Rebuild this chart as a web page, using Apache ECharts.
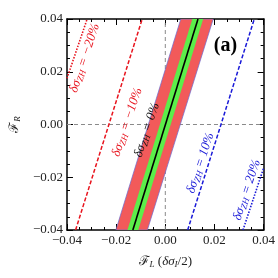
<!DOCTYPE html>
<html><head><meta charset="utf-8">
<script src="https://cdn.jsdelivr.net/npm/echarts@6/dist/echarts.min.js"></script>
<style>html,body{margin:0;padding:0;background:#fff}#c{width:278px;height:278px}</style>
</head><body><div id="c"></div>
<script>
// Axis ticks
const xTicks = [-0.04, -0.02, 0.00, 0.02, 0.04];
const yTicks = [-0.04, -0.02, 0.00, 0.02, 0.04];
// Bands (polygon corners, [F_L, F_R])
const redBand = [[-0.0201, -0.04], [-0.0073, -0.04], [0.0195, 0.04], [0.0063, 0.04]];
const greenBand = [[-0.0154, -0.04], [-0.0110, -0.04], [0.0154, 0.04], [0.0110, 0.04]];
const centerLine = [[-0.0132, -0.04], [0.0133, 0.04]];
// Contour lines
const redDashed = [[-0.0365, -0.04], [-0.0094, 0.04]];
const redDotted = [[-0.0400, 0.0175], [-0.0318, 0.04]];
const blueDashed = [[0.0091, -0.04], [0.0362, 0.04]];
const blueDotted = [[0.0316, -0.04], [0.0400, -0.0165]];
// Labels
const labelPos = [[-0.0328, 0.0252], [-0.0155, 0.0009], [-0.0075, -0.0021], [0.0143, -0.0146], [0.0332, -0.0248]];
const labelVals = ['−20%', '−10%', '0%', '10%', '20%'];
const labelColors = ['#e8141e', '#e8141e', '#111111', '#1a1ad8', '#1a1ad8'];
const panelLabel = '(a)';
const panelPos = [0.0245, 0.0297];

const SERIF = '"Liberation Serif", "DejaVu Serif", serif';
const fmt = v => { const s = Math.abs(v) < 1e-9 ? '0.00' : v.toFixed(2); return s.replace('-', '−'); };
const ROT = Math.atan2(1, 0.334);

function polySeries(pts, fill, stroke, z) {
  return {
    type: 'custom', clip: true, z: z, data: [0], silent: true,
    renderItem: (params, api) => ({
      type: 'polygon',
      shape: { points: pts.map(p => api.coord(p)) },
      style: { fill: fill, stroke: stroke, lineWidth: stroke ? 0.7 : 0 }
    })
  };
}
function lineSeries(pts, color, type, width, z) {
  return {
    type: 'line', data: pts, symbol: 'none', silent: true, z: z, clip: true,
    lineStyle: { color: color, type: type, width: width }
  };
}

const axisCommon = {
  type: 'value', min: -0.04, max: 0.04, interval: 0.02,
  axisLine: { show: true, onZero: false, lineStyle: { color: '#000', width: 1.5 } },
  axisTick: { show: true, inside: true, length: 6, lineStyle: { color: '#000', width: 1 } },
  minorTick: { show: true, splitNumber: 4, length: 3, lineStyle: { color: '#000', width: 1 } },
  splitLine: { show: false }
};

const chart = echarts.init(document.getElementById('c'), null, { renderer: 'canvas' });
chart.setOption({
  animation: false,
  grid: { left: 54, right: 12, top: 19, bottom: 48 },
  xAxis: [
    Object.assign({}, axisCommon, {
      position: 'bottom',
      axisLabel: { color: '#222', fontFamily: SERIF, fontSize: 13, margin: 4, formatter: fmt },
      name: '{f|ℱ}{s|L} ({g|δσ}{s|I}/2)', nameLocation: 'middle', nameGap: 24,
      nameTextStyle: {
        color: '#222', fontFamily: SERIF, fontSize: 13,
        rich: {
          f: { fontFamily: '"DejaVu Serif", serif', fontSize: 13, color: '#222' },
          g: { fontFamily: SERIF, fontStyle: 'italic', fontSize: 13, color: '#222' },
          s: { fontFamily: SERIF, fontStyle: 'italic', fontSize: 9, color: '#222', verticalAlign: 'bottom', padding: [6, 0, 0, 0] }
        }
      }
    }),
    Object.assign({}, axisCommon, { position: 'top', axisLabel: { show: false } })
  ],
  yAxis: [
    Object.assign({}, axisCommon, {
      position: 'left',
      axisLabel: { color: '#222', fontFamily: SERIF, fontSize: 13, margin: 4, formatter: fmt },
      name: '{f|ℱ}{s|R}', nameLocation: 'middle', nameGap: 40, nameRotate: 90,
      nameTextStyle: {
        color: '#222', fontFamily: SERIF, fontSize: 13,
        rich: {
          f: { fontFamily: '"DejaVu Serif", serif', fontSize: 13, color: '#222' },
          s: { fontFamily: SERIF, fontStyle: 'italic', fontSize: 9, color: '#222', verticalAlign: 'bottom', padding: [6, 0, 0, 0] }
        }
      }
    }),
    Object.assign({}, axisCommon, { position: 'right', axisLabel: { show: false } })
  ],
  series: [
    lineSeries([[0, -0.04], [0, 0.04]], '#8a8a8a', [4, 3], 1, 1),
    lineSeries([[-0.04, 0], [0.04, 0]], '#8a8a8a', [4, 3], 1, 1),
    polySeries(redBand, '#f25a5a', '#6a6ad0', 2),
    polySeries(greenBand, '#5cee4a', null, 3),
    lineSeries(centerLine, '#000', 'solid', 1.6, 4),
    lineSeries(redDashed, '#e8141e', [4, 2], 1.5, 4),
    lineSeries(redDotted, '#e8141e', [1.5, 1.5], 1.6, 4),
    lineSeries(blueDashed, '#1a1ad8', [4, 2], 1.5, 4),
    lineSeries(blueDotted, '#1a1ad8', [1.5, 1.5], 1.6, 4),
    {
      type: 'custom', clip: false, z: 6, silent: true,
      data: labelPos.map((p, i) => [p[0], p[1], i]),
      renderItem: (params, api) => {
        const i = api.value(2);
        const pt = api.coord([api.value(0), api.value(1)]);
        const c = labelColors[i];
        return {
          type: 'text', x: pt[0], y: pt[1], rotation: ROT,
          style: {
            text: '{g|δσ}{s|ZH}{n| = ' + labelVals[i] + '}',
            align: 'center', verticalAlign: 'middle',
            rich: {
              g: { fontFamily: SERIF, fontStyle: 'italic', fontSize: 13, fill: c },
              s: { fontFamily: SERIF, fontStyle: 'italic', fontSize: 9, fill: c, verticalAlign: 'bottom', padding: [6, 0, 0, 0] },
              n: { fontFamily: SERIF, fontStyle: 'italic', fontSize: 13, fill: c }
            }
          }
        };
      }
    },
    {
      type: 'custom', clip: false, z: 6, silent: true, data: [panelPos],
      renderItem: (params, api) => {
        const pt = api.coord([api.value(0), api.value(1)]);
        return { type: 'text', x: pt[0], y: pt[1],
          style: { text: '{b|' + panelLabel + '}', align: 'center', verticalAlign: 'middle',
            rich: { b: { fontFamily: SERIF, fontWeight: 'bold', fontSize: 20, fill: '#000' } } } };
      }
    }
  ]
});
</script></body></html>
